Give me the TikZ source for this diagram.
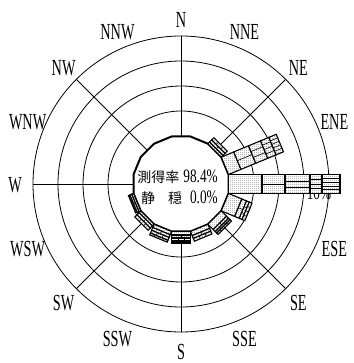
\documentclass[tikz,border=0pt]{standalone}
\usepackage{fontspec}
\setmainfont{Liberation Serif}
\newfontfamily\cjk{Noto Sans CJK JP}
\usetikzlibrary{calc}
\usetikzlibrary{patterns.meta}

\newcommand{\dirlab}[1]{\scalebox{0.62}[1]{\fontsize{23}{23}\selectfont #1}}
\newcommand{\cifra}[1]{\scalebox{0.7}[1]{\fontsize{19}{19}\selectfont #1}}
\newcommand{\semilarg}{9.45}

\tikzdeclarepattern{
  name=puntini,
  type=uncolored,
  bounding box={(0,0) and (2pt,2pt)},
  tile size={(2pt,2pt)},
  code={\pgfpathcircle{\pgfpoint{1pt}{1pt}}{0.5pt}\pgfusepath{fill}}
}

\tikzset{
  griglia/.style={line width=0.8pt},
  calma/.style={line width=2pt, line join=round},
  settore/.style={line width=1.1pt, preaction={fill=white}, pattern=puntini, pattern color=black!80},
  divisione/.style={line width=0.6pt},
  direzione/.style={inner sep=0.5pt}
}

\begin{document}
\begin{tikzpicture}[x=1pt, y=1pt]
  % Area del disegno
  \useasboundingbox (-181,-179) rectangle (172,184);

  % Cerchi concentrici
  \foreach \r in {73,98,123,148}
    \draw[griglia] (0,0) circle (\r);

  % Assi principali
  \foreach \a in {0,45,...,315}
    \draw[griglia] (\a:47.5) -- (\a:148);

  % Etichette delle direzioni
  \foreach \nome/\k in {N/0,NNE/1,NE/2,ENE/3,ESE/5,SE/6,SSE/7,S/8,SSW/9,SW/10,WSW/11,W/12,WNW/13,NW/14,NNW/15}
    \node[direzione] (dir-\nome) at ($({90-22.5*\k}:166)+(0,-1.5)$) {\dirlab{\nome}};

  % Scala
  \node (scala) at (138,-9) {\cifra{10\%}};

  % Poligono delle calme
  \draw[calma] (11.25:48.43) \foreach \j in {1,...,15} { -- ({11.25+22.5*\j}:48.43) } -- cycle;

  % Settori per direzione e classe di velocita
  \foreach \ang/\segs in {
      0/{47.5/81,81/104,104/129,129/141,141/159},
      22.5/{47.5/61,61/77,77/90,90/99,99/107},
      45/{47.5/50,50/53,53/56},
      -22.5/{47.5/62,62/67,67/70,70/73},
      -45/{47.5/55,55/58,58/60,60/62},
      -67.5/{47.5/52,52/55,55/58},
      -90/{47.5/51,51/54,54/57,57/59},
      -112.5/{47.5/51,51/54,54/57,57/59},
      -135/{47.5/50,50/53,53/56},
      -157.5/{47.5/49.5,49.5/51.5,51.5/53}} {
    \begin{scope}[rotate=\ang]
      \foreach \ra/\rb [count=\i] in \segs {
        \draw[settore] (\ra,-\semilarg) rectangle (\rb,\semilarg);
        \ifnum\i>1
          \foreach \j in {2,...,\i}
            \draw[divisione] (\ra,{-\semilarg+2*\semilarg*(\j-1)/\i}) -- (\rb,{-\semilarg+2*\semilarg*(\j-1)/\i});
        \fi
      }
    \end{scope}
  }

  % Testo centrale
  \node[anchor=east, inner sep=0] (sokutei) at (37,7)
    {{\cjk\fontsize{14}{14}\selectfont 測得率}\hspace{4pt}\cifra{98.4\%}};
  \node[anchor=east, inner sep=0] (seion) at (37,-14)
    {{\cjk\fontsize{14}{14}\selectfont 静\hspace{13pt}穏}\hspace{8pt}\cifra{0.0\%}};
\end{tikzpicture}
\end{document}
